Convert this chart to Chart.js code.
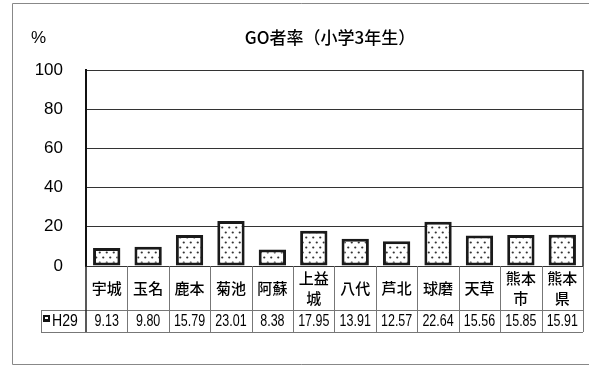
<!DOCTYPE html>
<html><head><meta charset="utf-8">
<script src="https://cdn.jsdelivr.net/npm/chart.js@4/dist/chart.umd.min.js"></script>
<style>html,body{margin:0;padding:0;background:#fff;}canvas{display:block;}</style>
</head><body>
<canvas id="c" width="589" height="368"></canvas>
<script>
const categories = [["宇城"],["玉名"],["鹿本"],["菊池"],["阿蘇"],["上益","城"],["八代"],["芦北"],["球磨"],["天草"],["熊本","市"],["熊本","県"]];
const seriesName = "H29";
const values = [9.13, 9.80, 15.79, 23.01, 8.38, 17.95, 13.91, 12.57, 22.64, 15.56, 15.85, 15.91];
const valueLabels = ["9.13","9.80","15.79","23.01","8.38","17.95","13.91","12.57","22.64","15.56","15.85","15.91"];
const yTicks = [0, 20, 40, 60, 80, 100];
const titleText = "GO者率（小学3年生）";
const unitText = "%";

const CJK = '"Noto Sans CJK JP", "Noto Sans", sans-serif';
const NUM = '"Liberation Sans", Arial, sans-serif';

function makePattern() {
  const p = document.createElement('canvas');
  p.width = 7; p.height = 10;
  const g = p.getContext('2d');
  g.fillStyle = '#fff'; g.fillRect(0, 0, 7, 10);
  g.fillStyle = '#333';
  g.beginPath(); g.arc(1.75, 2.5, 1.1, 0, Math.PI * 2); g.fill();
  g.beginPath(); g.arc(5.25, 7.5, 1.1, 0, Math.PI * 2); g.fill();
  return document.getElementById('c').getContext('2d').createPattern(p, 'repeat');
}
const pattern = makePattern();

function narrowText(ctx, text, x, y, sx) {
  ctx.save();
  ctx.translate(x, y);
  ctx.scale(sx, 1);
  ctx.fillText(text, 0, 0);
  ctx.restore();
}

const tablePlugin = {
  id: 'tablePlugin',
  afterDraw(chart) {
    const ctx = chart.ctx;
    const ca = chart.chartArea;
    const xs = chart.scales.x;
    const n = categories.length;
    const w = (ca.right - ca.left) / n;
    const row1Top = ca.bottom, row1Bot = 310, row2Bot = 332, legLeft = 41;
    ctx.save();
    // outer frame
    ctx.strokeStyle = '#888'; ctx.lineWidth = 1;
    ctx.beginPath();
    ctx.moveTo(600, 3.5); ctx.lineTo(12.5, 3.5); ctx.lineTo(12.5, 364.5); ctx.lineTo(600, 364.5);
    ctx.stroke();
    // plot right border
    ctx.strokeStyle = '#222'; ctx.lineWidth = 1.5;
    ctx.beginPath(); ctx.moveTo(ca.right, ca.top); ctx.lineTo(ca.right, ca.bottom); ctx.stroke();
    // table lines
    ctx.strokeStyle = '#777'; ctx.lineWidth = 1;
    ctx.beginPath();
    for (let i = 1; i <= n; i++) {
      const bx = Math.round(xs.getPixelForValue(i - 1) + w / 2) + 0.5;
      ctx.moveTo(bx, row1Top); ctx.lineTo(bx, row2Bot);
    }
    ctx.moveTo(legLeft + 0.5, row1Bot); ctx.lineTo(legLeft + 0.5, row2Bot);
    ctx.moveTo(legLeft, row1Bot + 0.5); ctx.lineTo(ca.right, row1Bot + 0.5);
    ctx.moveTo(legLeft, row2Bot + 0.5); ctx.lineTo(ca.right, row2Bot + 0.5);
    ctx.stroke();
    ctx.strokeStyle = '#222'; ctx.lineWidth = 1.5;
    ctx.beginPath(); ctx.moveTo(ca.left, ca.bottom); ctx.lineTo(ca.left, row2Bot); ctx.stroke();
    // category labels
    ctx.fillStyle = '#000';
    ctx.textAlign = 'center'; ctx.textBaseline = 'middle';
    ctx.font = '500 15px ' + CJK;
    categories.forEach((lines, i) => {
      const cx = xs.getPixelForValue(i);
      if (lines.length === 1) ctx.fillText(lines[0], cx, 288);
      else { ctx.fillText(lines[0], cx, 278); ctx.fillText(lines[1], cx, 298); }
    });
    // values
    ctx.font = '16px ' + NUM;
    valueLabels.forEach((v, i) => narrowText(ctx, v, xs.getPixelForValue(i), 322, 0.78));
    // legend cell
    ctx.fillStyle = '#111'; ctx.fillRect(43, 315, 7, 7);
    ctx.fillStyle = '#fff'; ctx.fillRect(45, 317, 3, 2);
    ctx.fillStyle = '#000'; ctx.textAlign = 'left';
    ctx.font = '16px ' + NUM;
    narrowText(ctx, seriesName, 52, 322, 0.88);
    // title & unit
    ctx.font = '500 17px ' + CJK;
    ctx.textAlign = 'center';
    ctx.fillText(titleText, 330, 38);
    ctx.font = '17px ' + NUM;
    ctx.textAlign = 'left';
    ctx.fillText(unitText, 31, 38);
    ctx.restore();
  }
};

new Chart(document.getElementById('c'), {
  type: 'bar',
  data: {
    labels: categories.map(c => c.join('')),
    datasets: [{
      label: seriesName,
      data: values,
      backgroundColor: pattern,
      borderColor: '#1a1a1a',
      borderWidth: 3,
      borderSkipped: false,
      barPercentage: 0.66,
      categoryPercentage: 1.0
    }]
  },
  options: {
    responsive: false,
    devicePixelRatio: 1,
    animation: false,
    layout: { padding: { left: 0, top: 70, right: 6, bottom: 102 } },
    plugins: { legend: { display: false }, title: { display: false }, tooltip: { enabled: false } },
    scales: {
      x: { display: false },
      y: {
        min: 0, max: 100,
        afterFit(s) { s.width = 86; },
        afterBuildTicks(s) { s.ticks = yTicks.map(v => ({ value: v })); },
        ticks: { stepSize: 20, padding: 23, color: '#000', font: { family: NUM, size: 17 } },
        grid: { color: '#333', lineWidth: 1, drawTicks: false },
        border: { display: true, color: '#111', width: 2 }
      }
    }
  },
  plugins: [tablePlugin]
});
</script>
</body></html>
